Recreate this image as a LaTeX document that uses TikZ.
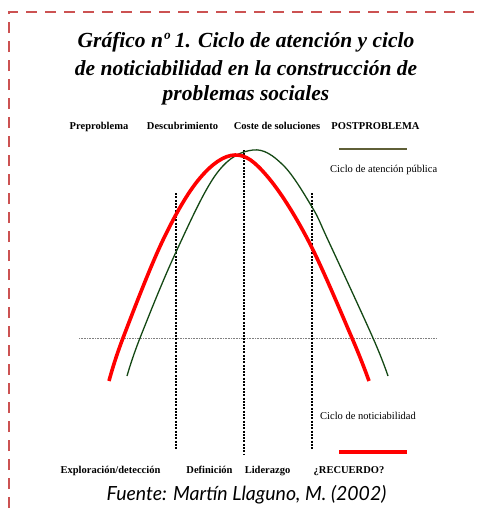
\documentclass[tikz,border=0pt]{standalone}
\usepackage{fontspec}
\setmainfont{Liberation Serif}
\newfontfamily\fuentefont{Lato}
\usetikzlibrary{positioning}
\definecolor{marco}{RGB}{204,82,82}
\definecolor{verdeciclo}{RGB}{20,72,20}
\definecolor{verdeleyenda}{RGB}{95,95,55}
\definecolor{rojociclo}{RGB}{255,0,0}
\tikzset{
  fase/.style={font=\fontsize{10.5}{12}\selectfont\bfseries, anchor=base, inner sep=0pt},
  leyenda/.style={font=\fontsize{10.5}{12}\selectfont, anchor=base west, inner sep=0pt},
  titulo/.style={font=\fontsize{21.5}{24}\selectfont\bfseries\itshape, anchor=base, inner sep=0pt},
  corte/.style={line width=2pt, dash pattern=on 2pt off 1.3pt},
}

\begin{document}
\begin{tikzpicture}[x=1pt, y=-1pt]
      \useasboundingbox (0,0) rectangle (479,515);
      % marco discontinuo
      \draw[marco, line width=2pt, dash pattern=on 11pt off 8pt]
        (9,508) -- (9,12) -- (479,12);

      % titulo
      \node [titulo] (tituloA) at (246,47) {Gráfico nº 1. Ciclo de atención y ciclo};
      \node [titulo] (tituloB) at (246,75) {de noticiabilidad en la construcción de};
      \node [titulo] (tituloC) at (246,100) {problemas sociales};

      % fases superiores
      \node [fase] (pre) at (99,129) {Preproblema};
      \node [fase] (descubr) at (182.5,129) {Descubrimiento};
      \node [fase] (coste) at (277,129) {Coste de soluciones};
      \node [fase] (post) at (375.5,129) {POSTPROBLEMA};

      % fases inferiores
      \node [fase] (explor) at (110.5,473) {Exploración/detección};
      \node [fase] (defin) at (209.5,473) {Definición};
      \node [fase] (lider) at (267.5,473) {Liderazgo};
      \node [fase] (recuerdo) at (349,473) {¿RECUERDO?};

      % fuente
      \node [font=\fontsize{19.5}{22}\selectfont\fuentefont\itshape,
        anchor=base, inner sep=0pt
      ] (fuente) at (246.5,500) {Fuente: Martín Llaguno, M. (2002)};

      % linea base
      \coordinate (baseA) at (79,338);
      \coordinate (baseB) at (437,338);
      \draw[gray, line width=0.8pt, dash pattern=on 0.8pt off 0.8pt] (baseA) -- (baseB);

      % cortes entre fases
      \foreach \nombre/\x/\arriba/\abajo in {izq/176/193/449, centro/244/150/455, der/312/193/449} {
        \coordinate (\nombre top) at (\x,\arriba);
        \coordinate (\nombre bot) at (\x,\abajo);
        \draw[corte] (\nombre top) -- (\nombre bot);
      }

      % ciclo de atencion publica
      \draw[verdeciclo, line width=1.3pt] plot[smooth, tension=0.6] coordinates {
        (127,376) (140,338) (176,252) (217,173) (253,150) (283,165)
        (312,207) (328,240) (373,338) (388,376)};

      % ciclo de noticiabilidad
      \draw[rojociclo, line width=3.6pt] plot[smooth, tension=0.6] coordinates {
        (109,381) (123,338) (163,240) (200,178) (235,155)
        (267,176) (308,240) (352,338) (369,381)};

      % leyenda
      \coordinate (verdeA) at (339,149);
      \coordinate (verdeB) at (407,149);
      \draw[verdeleyenda, line width=1.5pt] (verdeA) -- (verdeB);
      \node [leyenda] (atencion) at (330,172) {Ciclo de atención pública};
      \node [leyenda] (notic) at (320,419) {Ciclo de noticiabilidad};
      \coordinate (rojoA) at (339,452);
      \coordinate (rojoB) at (407,452);
      \draw[rojociclo, line width=3.4pt] (rojoA) -- (rojoB);
    \end{tikzpicture}
\end{document}
